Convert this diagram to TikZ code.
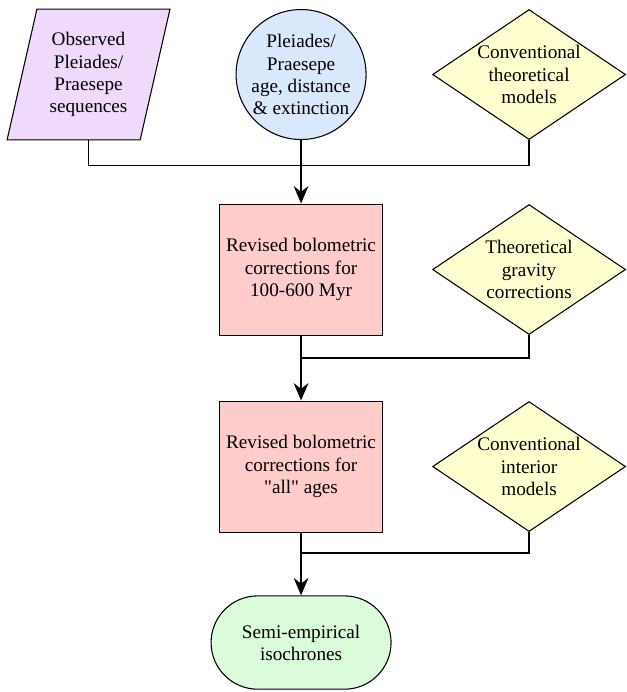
\documentclass[tikz,border=0pt]{standalone}
\usepackage{fontspec}
\setmainfont{Liberation Serif}[Ligatures=TeXOff]
\usetikzlibrary{shapes.geometric,arrows.meta}

\definecolor{obsfill}{RGB}{240,218,252}
\definecolor{datafill}{RGB}{218,232,252}
\definecolor{modelfill}{RGB}{255,255,208}
\definecolor{corrfill}{RGB}{255,204,204}
\definecolor{isofill}{RGB}{218,252,218}

\begin{document}
\begin{tikzpicture}[node distance=171pt, >={Stealth[length=13pt,width=11pt]}, every node/.style={font=\fontsize{14.4}{16.6}\selectfont}]
    \tikzstyle{input} = [trapezium, trapezium left angle=75, trapezium right angle=105, trapezium stretches=true, draw, line width=0.8pt, fill=obsfill, minimum width=123pt, minimum height=98pt, inner sep=0pt, align=center]
    \tikzstyle{data} = [circle, draw, line width=0.8pt, fill=datafill, minimum size=97.5pt, inner sep=0pt, align=center]
    \tikzstyle{model} = [diamond, draw, line width=0.8pt, fill=modelfill, aspect=1.485, minimum width=144.75pt, minimum height=97.5pt, inner sep=0pt, align=center]
    \tikzstyle{corr} = [rectangle, draw, line width=0.8pt, fill=corrfill, minimum width=122.6pt, minimum height=98.25pt, align=center]
    \tikzstyle{result} = [rectangle, draw, line width=0.8pt, fill=isofill, rounded corners=35pt, minimum width=135pt, minimum height=70pt, align=center]
    \tikzstyle{branch} = [line width=1pt]
    \tikzstyle{flow} = [->, line width=1.5pt]

    \useasboundingbox (0,0) rectangle (470.25pt,-519pt);

    \node (obs) [input] at (66.4pt,-55.9pt) {Observed\\Pleiades/\\Praesepe\\sequences};
    \node (clusters) [data, right of=obs, node distance=159.4pt] {Pleiades/\\Praesepe\\age, distance\\\& extinction};
    \node (convmodels) [model, right of=clusters] {Conventional\\theoretical\\models};
    \node (bc1) [corr, below of=clusters, node distance=146.25pt] {Revised bolometric\\corrections for\\100-600 Myr};
    \node (gravity) [model, right of=bc1] {Theoretical\\gravity\\corrections};
    \node (bc2) [corr, below of=bc1, node distance=147.75pt] {Revised bolometric\\corrections for\\"all" ages};
    \node (interior) [model, right of=bc2] {Conventional\\interior\\models};
    \node (iso) [result, below of=bc2, node distance=132pt] {Semi-empirical\\isochrones};

    % joins on the main line
    \coordinate [below of=clusters, node distance=68.25pt] (join1);
    \coordinate [below of=bc1, node distance=66.4pt] (join2);
    \coordinate [below of=bc2, node distance=64.9pt] (join3);

    \draw [branch] (obs.south) |- (join1) -| (convmodels.south);
    \draw [branch] (gravity.south) |- (join2);
    \draw [branch] (interior.south) |- (join3);
    \draw [flow] (clusters.south) -- (bc1.north);
    \draw [flow] (bc1.south) -- (bc2.north);
    \draw [flow] (bc2.south) -- (iso.north);

\end{tikzpicture}
\end{document}
